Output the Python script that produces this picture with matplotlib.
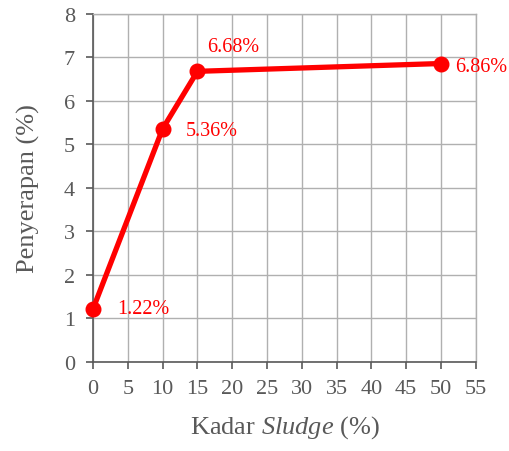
import matplotlib
matplotlib.use("Agg")
import matplotlib.pyplot as plt

plt.rcParams['font.family'] = ['Liberation Serif', 'DejaVu Serif']
plt.rcParams['mathtext.fontset'] = 'custom'
plt.rcParams['mathtext.rm'] = 'Liberation Serif'
plt.rcParams['mathtext.it'] = 'Liberation Serif:italic'

kadar = [0, 10, 15, 50]
penyerapan = [1.22, 5.36, 6.68, 6.86]
label_offsets_px = [(24, 0), (23, -2), (10, 25), (14, -3)]
x_ticks = list(range(0, 56, 5))
y_ticks = list(range(0, 9))

fig = plt.figure(figsize=(5.10, 4.52), dpi=100)
ax = fig.add_axes([0.1824, 0.197, 0.7506, 0.770])

red = '#ff0000'
ax.plot(kadar, penyerapan, color=red, lw=3.8, marker='o', ms=10.5,
        solid_joinstyle='round', zorder=3, clip_on=False)

for x, y, (dx, dy) in zip(kadar, penyerapan, label_offsets_px):
    ax.annotate(f"{y:.2f}%", (x, y), xytext=(dx * 0.72, dy * 0.72),
                textcoords='offset points', ha='left', va='center',
                color=red, fontsize=14.5, zorder=4, annotation_clip=False)

ax.set_xlim(0, 55)
ax.set_ylim(0, 8)
ax.set_xticks(x_ticks)
ax.set_yticks(y_ticks)
ax.grid(True, color='#b0b0b0', lw=1.0, zorder=0)
ax.set_axisbelow(True)

axis_grey = '#595959'
for s in ['top', 'right']:
    ax.spines[s].set_color('#b0b0b0')
    ax.spines[s].set_linewidth(1.0)
for s in ['left', 'bottom']:
    ax.spines[s].set_color(axis_grey)
    ax.spines[s].set_linewidth(1.2)

ax.tick_params(axis='both', direction='out', length=5, width=1.2,
               color=axis_grey, labelcolor=axis_grey, labelsize=16)
ax.tick_params(axis='y', pad=8)
ax.tick_params(axis='x', pad=7)

ax.set_xlabel("Kadar $\\mathit{Sludge}$ (%)", fontsize=19, color=axis_grey, labelpad=11)
ax.set_ylabel("Penyerapan (%)", fontsize=19, color=axis_grey, labelpad=17)

fig.savefig("out.png", dpi=100)
